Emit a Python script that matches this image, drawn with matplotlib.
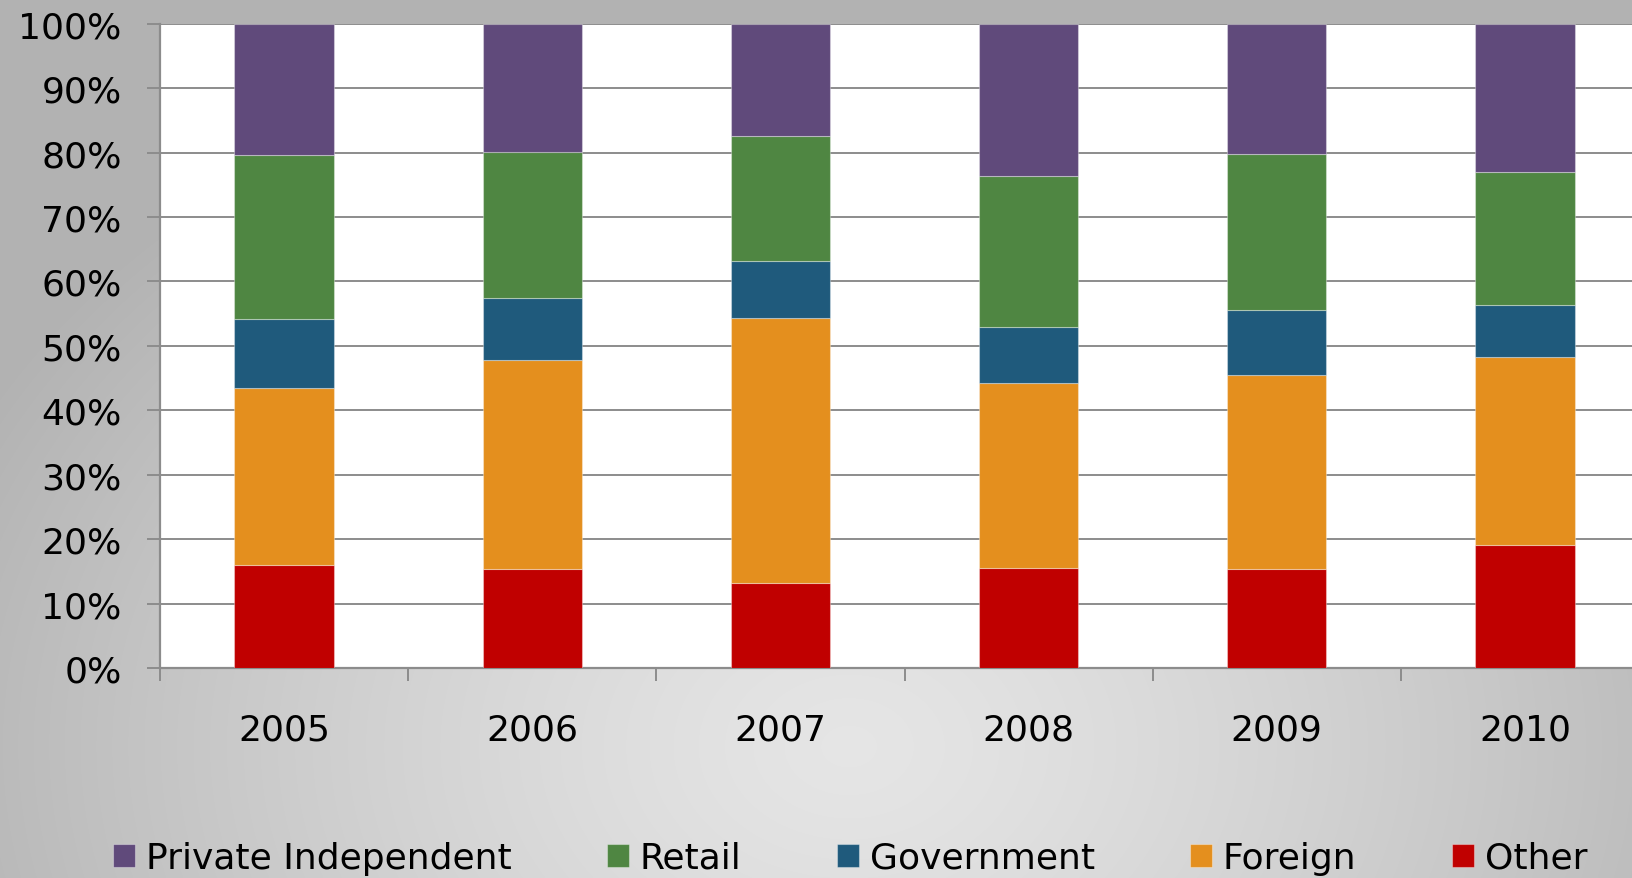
import matplotlib
matplotlib.use('Agg')
import matplotlib.pyplot as plt
import numpy as np
from matplotlib.ticker import PercentFormatter, MultipleLocator

# ============================================================
# DATA (persen per tahun, ditumpuk dari bawah ke atas)
# ============================================================
years = ["2005", "2006", "2007", "2008", "2009", "2010"]

other = [16.0, 15.4, 13.2, 15.5, 15.4, 19.1]
foreign = [27.5, 32.4, 41.1, 28.7, 30.1, 29.1]
government = [10.7, 9.6, 8.8, 8.8, 10.1, 8.2]
retail = [25.4, 22.7, 19.4, 23.3, 24.2, 20.6]
private_independent = [20.4, 19.9, 17.5, 23.7, 20.2, 23.0]

series_names = ["Other", "Foreign", "Government", "Retail", "Private Independent"]
series_values = [other, foreign, government, retail, private_independent]
series_colors = ["#c00000", "#e48f1e", "#1f5a7c", "#4f8642", "#604a7b"]

FS = 26

# ============================================================
# FIGURE + latar gradien abu-abu
# ============================================================
W, H = 1632, 879
fig = plt.figure(figsize=(W / 100, H / 100), dpi=100)

yy, xx = np.mgrid[0:H, 0:W]
r = np.sqrt((xx - 0.52 * W) ** 2 + ((yy - 0.85 * H) / 0.75) ** 2)
shade = np.clip(0.90 - 0.16 * (r / 820.0) ** 1.3, 0.70, 0.90)
rgb = np.dstack([shade, shade, shade])
bg = fig.add_axes([0, 0, 1, 1], zorder=-10)
bg.imshow(rgb, aspect='auto', interpolation='bilinear')
bg.axis('off')

ax = fig.add_axes([160 / W, 1 - 669 / H, 1489 / W, (669 - 24.7) / H])
ax.set_facecolor('white')

x = np.arange(len(years))
bottom = np.zeros(len(years))
handles = {}
for name, vals, color in zip(series_names, series_values, series_colors):
    vals = np.array(vals)
    bars = ax.bar(x, vals, width=0.4, bottom=bottom, color=color,
                  edgecolor=(1, 1, 1, 0.35), linewidth=0.8, zorder=3)
    handles[name] = bars
    bottom += vals

# ============================================================
# SUMBU
# ============================================================
grid_gray = '#8c8c8c'
ax.set_xlim(-0.5, len(years) - 0.5)
ax.set_ylim(0, 100)
ax.yaxis.set_major_locator(MultipleLocator(10))
ax.yaxis.set_major_formatter(PercentFormatter(decimals=0))
ax.grid(axis='y', color=grid_gray, linewidth=1.4, zorder=0)
ax.set_axisbelow(True)

ax.set_xticks(x)
ax.set_xticklabels(years)
ax.set_xticks(np.arange(-0.5, len(years), 1.0), minor=True)
ax.tick_params(axis='x', which='major', length=0, pad=32, labelsize=FS)
ax.tick_params(axis='x', which='minor', length=9, width=1.4, color=grid_gray, direction='out')
ax.tick_params(axis='y', length=9.5, width=1.4, color=grid_gray, pad=18, labelsize=FS)

for side in ['top', 'right']:
    ax.spines[side].set_visible(False)
for side in ['left', 'bottom']:
    ax.spines[side].set_color(grid_gray)
    ax.spines[side].set_linewidth(1.6)

# ============================================================
# LEGENDA
# ============================================================
order = ["Private Independent", "Retail", "Government", "Foreign", "Other"]
fig.legend([handles[n] for n in order], order, loc='center',
           bbox_to_anchor=(0.521, 0.023), ncol=5, frameon=False,
           fontsize=FS, handlelength=0.6, handleheight=0.6,
           handletextpad=0.3, columnspacing=2.65)

plt.savefig('out.png', dpi=100)
